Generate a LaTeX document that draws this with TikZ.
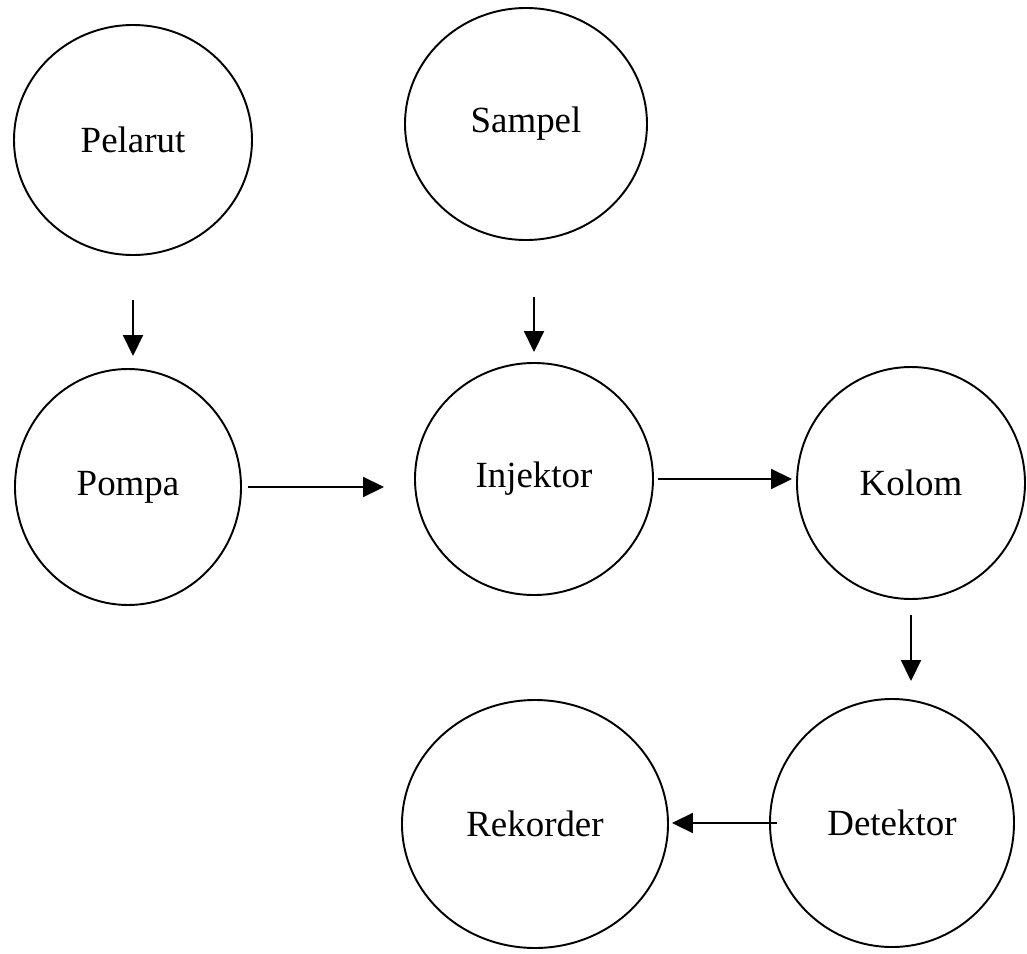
\documentclass[tikz,border=0pt]{standalone}
\usepackage{fontspec}
\setmainfont{Liberation Serif}
\usetikzlibrary{shapes.geometric}
\usetikzlibrary{arrows.meta}

\tikzset{
	unit/.style={ellipse, draw, line width=1.1pt, inner sep=0pt, font=\fontsize{21}{25}\selectfont},
	flow/.style={-{Triangle[length=0.42cm, width=0.4cm]}, line width=1.1pt}
}

\begin{document}
\begin{tikzpicture}
	\useasboundingbox (0,0) rectangle (20.54,-19.08);
	% alat-alat
	\node[unit, minimum width=4.76cm, minimum height=4.60cm] (pel) at (2.66,-2.80) {Pelarut};
	\node[unit, minimum width=4.84cm, minimum height=4.64cm] (sam) at (10.52,-2.48) {Sampel};
	\node[unit, minimum width=4.52cm, minimum height=4.72cm] (pom) at (2.56,-9.74) {Pompa};
	\node[unit, minimum width=4.76cm, minimum height=4.64cm] (inj) at (10.68,-9.58) {Injektor};
	\node[unit, minimum width=4.56cm, minimum height=4.64cm] (kol) at (18.22,-9.66) {Kolom};
	\node[unit, minimum width=4.88cm, minimum height=4.96cm] (det) at (17.84,-16.46) {Detektor};
	\node[unit, minimum width=5.32cm, minimum height=4.96cm] (rek) at (10.70,-16.48) {Rekorder};
	% aliran
	\draw[flow, shorten <=0.88cm, shorten >=0.24cm] (pel.south) -- (pel.south |- pom.north);
	\draw[flow, shorten <=1.12cm, shorten >=0.2cm] (inj.north |- sam.south) -- (inj.north);
	\draw[flow, shorten <=0.12cm, shorten >=0.6cm] (pom.east) -- (pom.east -| inj.west);
	\draw[flow, shorten <=0.08cm, shorten >=0.08cm] (inj.east) -- (inj.east -| kol.west);
	\draw[flow, shorten <=0.3cm, shorten >=0.34cm] (kol.south) -- (kol.south |- det.north);
	\draw[flow, shorten <=-0.16cm, shorten >=0.06cm] (det.west) -- (det.west -| rek.east);
\end{tikzpicture}
\end{document}
